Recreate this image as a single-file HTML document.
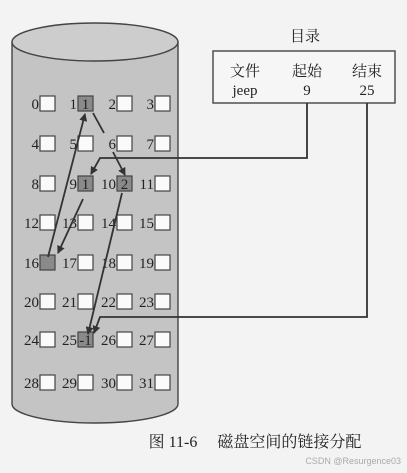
<!DOCTYPE html>
<html><head><meta charset="utf-8"><style>
html,body{margin:0;padding:0;background:#f3f3f3;}
svg{display:block;}
text{font-family:"Liberation Serif","Noto Serif CJK SC",serif;fill:#222;}
</style></head><body>
<svg width="407" height="473" viewBox="0 0 407 473">
<defs><marker id="ah" markerWidth="8" markerHeight="8" refX="7" refY="4" orient="auto" markerUnits="userSpaceOnUse"><path d="M0,0 L8,4 L0,8 z" fill="#333"/></marker></defs>
<g>
<path d="M12,42 L12,404 A83,19 0 0 0 178,404 L178,42 Z" fill="#c4c4c4" stroke="#444" stroke-width="1.4"/>
<ellipse cx="95" cy="42" rx="83" ry="19" fill="#cdcdcd" stroke="#444" stroke-width="1.4"/>
</g>
<g id="blocks"></g>
<g>
<text x="305" y="41" font-size="15" text-anchor="middle">目录</text>
<rect x="213" y="51" width="182" height="52" fill="#f6f6f6" stroke="#444" stroke-width="1.4"/>
<text x="245" y="76" font-size="15" text-anchor="middle">文件</text>
<text x="307" y="76" font-size="15" text-anchor="middle">起始</text>
<text x="367" y="76" font-size="15" text-anchor="middle">结束</text>
<text x="245" y="95" font-size="15" text-anchor="middle">jeep</text>
<text x="307" y="95" font-size="15" text-anchor="middle">9</text>
<text x="367" y="95" font-size="15" text-anchor="middle">25</text>
</g>
<g fill="none" stroke="#333" stroke-width="1.8">
<polyline points="307,103 307,158 100,158 91,174" marker-end="url(#ah)"/>
<polyline points="367,103 367,317 100,317 94,333" marker-end="url(#ah)"/>
<line x1="83" y1="199" x2="58" y2="253" marker-end="url(#ah)"/>
<line x1="48" y1="257" x2="85" y2="114" marker-end="url(#ah)"/>
<line x1="93" y1="113" x2="104" y2="133"/>
<line x1="113" y1="152" x2="125" y2="175" marker-end="url(#ah)"/>
<line x1="122" y1="193" x2="88" y2="334" marker-end="url(#ah)"/>
</g>
<text x="255" y="447" font-size="16" text-anchor="middle">图 11-6　 磁盘空间的链接分配</text>
<text x="401" y="464" font-size="9" text-anchor="end" style="font-family:'Liberation Sans',sans-serif;fill:#aaa">CSDN @Resurgence03</text>
</svg>
<script>
const used={1:'1',9:'1',10:'2',16:'',25:'-1'};
const g=document.getElementById('blocks');
const NS='http://www.w3.org/2000/svg';
const colX=[40,78,117,155], rowY=[96,136,176,215,255,294,332,375];
for(let i=0;i<32;i++){
 const r=Math.floor(i/4),c=i%4;
 const x=colX[c],y=rowY[r];
 const t=document.createElementNS(NS,'text');
 t.setAttribute('x',x-1);t.setAttribute('y',y+13);t.setAttribute('font-size','15');t.setAttribute('text-anchor','end');
 t.textContent=i;
 
 
 g.appendChild(t);
 const b=document.createElementNS(NS,'rect');
 b.setAttribute('x',x);b.setAttribute('y',y);b.setAttribute('width',15);b.setAttribute('height',15);
 b.setAttribute('fill',i in used?'#8a8a8a':'#fafafa');b.setAttribute('stroke','#444');b.setAttribute('stroke-width','1.2');
 
 
 g.appendChild(b);
 if(i in used && used[i]){
  const v=document.createElementNS(NS,'text');
  v.setAttribute('x',x+7.5);v.setAttribute('y',y+13);v.setAttribute('font-size','15');v.setAttribute('text-anchor','middle');
  v.textContent=used[i];
  
  
  g.appendChild(v);
 }
}
</script>
</body></html>
